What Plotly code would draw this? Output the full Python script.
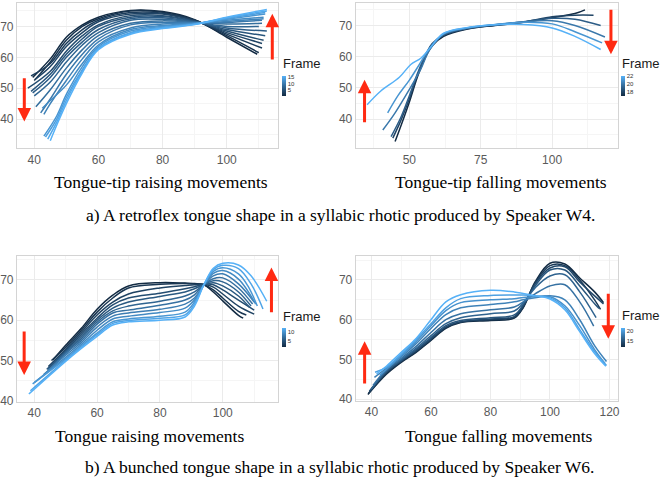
import plotly.graph_objects as go
from plotly.colors import sample_colorscale

W, H = 664, 484

# ---------------- Panel 1: Tongue-tip raising (retroflex, W4) ----------------
P1_FRAMES = list(range(1, 17))
P1_X = [
    [39.5, 45, 50, 55, 60, 70, 80, 90, 100, 109.5],
    [40.0, 45, 50, 55, 60, 70, 80, 90, 100, 110.0],
    [39.0, 45, 50, 55, 60, 70, 80, 90, 100, 111.0],
    [40.5, 45, 50, 55, 60, 70, 80, 90, 100, 111.0],
    [38.0, 45, 50, 55, 60, 70, 80, 90, 100, 111.5],
    [39.0, 45, 50, 55, 60, 70, 80, 90, 100, 112.0],
    [39.5, 45, 50, 55, 60, 70, 80, 90, 100, 112.5],
    [40.0, 45, 50, 55, 60, 70, 80, 90, 100, 110.0],
    [40.5, 45, 50, 55, 60, 70, 80, 90, 100, 111.0],
    [42.0, 45, 50, 55, 60, 70, 80, 90, 100, 111.0],
    [43.0, 45, 50, 55, 60, 70, 80, 90, 100, 111.5],
    [42.5, 45, 50, 55, 60, 70, 80, 90, 100, 111.5],
    [43.0, 47, 50, 55, 60, 70, 80, 90, 100, 112.0],
    [43.5, 47, 50, 55, 60, 70, 80, 90, 100, 112.0],
    [44.2, 47, 50, 55, 60, 70, 80, 90, 100, 112.5],
    [45.0, 47, 50, 55, 60, 70, 80, 90, 100, 112.5],
]
P1_Y = [
    [53.5, 59.5, 66.5, 70.5, 73.0, 75.2, 74.8, 72.2, 66.5, 61.0],
    [52.5, 58.5, 65.5, 70.0, 72.5, 75.0, 74.6, 72.0, 67.0, 61.5],
    [54.0, 58.0, 64.5, 69.0, 72.0, 74.5, 74.3, 72.0, 67.5, 63.0],
    [53.0, 57.0, 63.5, 68.0, 71.5, 74.0, 74.0, 71.8, 68.0, 64.5],
    [50.0, 55.5, 62.0, 67.0, 70.5, 73.5, 73.5, 71.7, 68.5, 65.5],
    [49.0, 54.5, 61.0, 66.0, 70.0, 73.0, 73.2, 71.6, 69.0, 67.0],
    [48.5, 53.5, 60.0, 65.0, 69.0, 72.5, 72.8, 71.5, 69.5, 68.5],
    [47.5, 52.0, 58.5, 64.0, 68.0, 72.0, 72.3, 71.4, 70.0, 70.0],
    [44.0, 49.5, 56.5, 62.5, 67.0, 71.0, 71.8, 71.3, 70.8, 71.0],
    [42.0, 46.5, 54.5, 61.0, 66.0, 70.5, 71.3, 71.2, 71.3, 72.0],
    [41.5, 45.0, 52.5, 59.5, 65.0, 69.5, 70.8, 71.1, 71.6, 72.5],
    [43.5, 46.0, 51.0, 58.0, 64.0, 69.0, 70.3, 71.0, 72.0, 73.0],
    [34.5, 41.0, 48.0, 57.0, 63.5, 68.5, 70.0, 70.9, 72.3, 74.0],
    [34.2, 40.0, 47.0, 56.0, 63.0, 68.0, 69.7, 70.8, 72.6, 74.5],
    [33.5, 39.0, 46.0, 55.5, 62.8, 67.8, 69.5, 70.7, 72.8, 75.0],
    [33.0, 38.0, 45.0, 55.0, 62.5, 67.5, 69.3, 70.6, 73.0, 75.5],
]
P1_CB_TICKS = [5, 10, 15]

# ---------------- Panel 2: Tongue-tip falling (retroflex, W4) ----------------
P2_FRAMES = list(range(17, 23))
P2_X = [
    [45.0, 47.5, 50, 53, 56, 58, 62, 70, 80, 90, 100, 108, 111.5],
    [44.2, 47, 50, 53, 56, 58, 62, 70, 80, 90, 100, 108, 114.5],
    [43.6, 47, 50, 53, 56, 58, 62, 70, 80, 90, 100, 108, 117.0],
    [40.7, 45, 50, 54, 57, 62, 70, 80, 90, 100, 108, 118.5],
    [42.4, 46, 50, 53.5, 57, 62, 70, 80, 90, 100, 108, 117.5],
    [35.2, 40, 46.5, 50.5, 54, 57, 62, 70, 80, 90, 100, 108, 117.0],
]
P2_Y = [
    [32.8, 39.0, 45.5, 54.0, 60.5, 63.5, 66.5, 68.8, 70.0, 71.0, 72.5, 73.8, 75.0],
    [33.9, 39.5, 46.5, 54.5, 61.0, 64.0, 66.8, 68.9, 70.1, 71.1, 72.8, 73.3, 73.3],
    [34.4, 40.5, 47.5, 55.0, 61.2, 64.2, 67.0, 69.0, 70.2, 71.2, 72.3, 72.0, 70.0],
    [36.5, 42.0, 49.5, 56.0, 62.0, 67.2, 69.1, 70.2, 71.1, 71.5, 70.0, 66.3],
    [42.0, 47.5, 52.5, 57.5, 62.5, 67.3, 69.2, 70.3, 71.0, 70.5, 68.0, 64.4],
    [44.6, 49.0, 53.4, 57.5, 59.5, 62.5, 67.5, 69.3, 70.2, 70.3, 69.2, 66.5, 62.3],
]
P2_CB_TICKS = [18, 20, 22]

# ---------------- Panel 3: Tongue raising (bunched, W6) ----------------
P3_FRAMES = list(range(1, 13))
_P3_XB = [50, 55, 60, 65, 70, 80, 88, 91, 94, 97, 100, 105]
P3_X = [
    [46.0] + _P3_XB + [106.5],
    [45.5] + _P3_XB + [107.5],
    [44.5] + _P3_XB + [110.0],
    [44.5] + _P3_XB + [110.0],
    [44.0] + _P3_XB + [108.5],
    [44.5] + _P3_XB + [109.0],
    [44.0] + _P3_XB + [109.5],
    [43.0] + _P3_XB + [110.0],
    [40.0] + _P3_XB + [110.5],
    [39.5] + _P3_XB + [108.0, 111.0],
    [38.8] + _P3_XB + [109.0, 112.8],
    [38.3] + _P3_XB + [109.0, 114.0],
]
P3_Y = [
    [50.2, 53.8, 58.0, 62.7, 66.2, 68.5, 69.3, 69.2, 69.1, 68.8, 67.0, 64.8, 61.2, 60.5],
    [50.0, 53.3, 57.5, 62.0, 65.5, 68.0, 68.9, 69.1, 69.0, 68.8, 67.5, 65.5, 62.2, 61.3],
    [48.5, 52.8, 57.0, 61.3, 64.5, 66.5, 68.0, 68.6, 68.8, 68.9, 68.2, 66.5, 63.5, 61.5],
    [48.0, 52.5, 56.5, 60.5, 63.8, 65.5, 66.7, 67.8, 68.3, 68.9, 68.8, 67.5, 65.0, 62.5],
    [47.8, 52.2, 56.0, 60.0, 63.0, 64.5, 65.9, 67.0, 67.8, 68.8, 69.3, 68.5, 66.0, 63.2],
    [47.5, 52.0, 55.5, 59.5, 62.3, 63.5, 64.7, 66.0, 67.0, 68.8, 69.8, 69.5, 67.0, 63.5],
    [47.0, 51.7, 55.0, 59.0, 61.8, 62.5, 63.7, 65.0, 66.3, 68.8, 70.3, 70.5, 68.0, 64.0],
    [46.5, 51.3, 54.5, 58.3, 61.0, 61.8, 62.7, 64.0, 65.5, 68.7, 71.0, 71.5, 69.0, 64.5],
    [44.5, 50.8, 54.0, 57.5, 60.3, 61.0, 61.9, 63.0, 65.0, 68.7, 71.6, 72.3, 70.2, 64.0],
    [44.2, 50.4, 53.6, 56.8, 59.6, 60.3, 61.0, 62.0, 64.5, 68.8, 72.1, 73.0, 71.5, 68.5, 63.5],
    [42.5, 50.1, 53.3, 56.4, 59.2, 59.9, 60.5, 61.3, 64.0, 68.8, 72.5, 73.6, 72.8, 69.0, 62.8],
    [41.7, 49.8, 53.0, 56.0, 58.8, 59.6, 60.0, 60.8, 63.5, 68.8, 72.9, 74.1, 73.7, 71.0, 64.7],
]
P3_CB_TICKS = [5, 10]

# ---------------- Panel 4: Tongue falling (bunched, W6) ----------------
P4_FRAMES = list(range(12, 22))
_P4_XA = [45, 50, 55, 60, 65, 70, 80, 88, 91, 95, 100, 105, 110]
P4_X = [
    [38.8] + _P4_XA + [115, 118.0],
    [39.0] + _P4_XA + [115, 117.0],
    [39.3] + _P4_XA + [115, 118.0],
    [39.6] + _P4_XA + [115, 116.5],
    [40.0] + _P4_XA + [115.5],
    [40.5] + _P4_XA + [114.7],
    [41.0] + _P4_XA + [115, 119.0],
    [42.8] + _P4_XA + [115, 118.5],
    [41.2] + _P4_XA + [115, 119.0],
    [41.7] + _P4_XA + [115, 118.8],
]
P4_Y = [
    [41.2, 46.3, 49.3, 51.8, 54.8, 57.8, 59.3, 59.8, 60.4, 63.0, 69.5, 74.2, 74.0, 70.5, 67.0, 64.3],
    [41.5, 46.5, 49.5, 52.0, 55.0, 58.0, 59.4, 60.0, 60.6, 63.2, 69.2, 73.6, 73.6, 70.0, 65.0, 62.6],
    [42.0, 46.8, 49.6, 52.2, 55.2, 58.2, 59.5, 60.2, 60.8, 63.5, 69.0, 73.0, 73.3, 69.5, 66.0, 64.0],
    [42.3, 47.0, 49.8, 52.5, 55.5, 58.5, 59.8, 60.5, 61.2, 63.8, 68.5, 72.5, 72.5, 68.5, 64.0, 62.8],
    [42.6, 47.2, 50.0, 52.8, 56.0, 59.0, 60.5, 61.5, 62.2, 64.2, 68.0, 71.0, 71.3, 67.0, 60.5],
    [43.5, 47.5, 50.3, 53.3, 56.8, 60.0, 61.5, 62.5, 63.2, 64.5, 66.5, 68.5, 68.8, 64.5, 58.4],
    [45.5, 47.8, 50.7, 54.0, 57.8, 61.3, 63.0, 63.8, 64.5, 65.0, 65.5, 66.0, 65.0, 60.0, 53.5, 49.5],
    [46.0, 47.5, 51.0, 54.5, 58.5, 62.3, 64.3, 65.0, 65.3, 65.6, 65.8, 65.8, 63.5, 58.5, 52.5, 49.0],
    [46.8, 48.0, 51.3, 55.0, 59.0, 63.0, 65.3, 66.1, 66.2, 66.2, 66.0, 65.5, 63.0, 57.5, 52.0, 48.5],
    [46.4, 48.3, 51.8, 55.3, 60.0, 64.5, 66.3, 67.4, 67.0, 66.6, 66.0, 65.2, 62.5, 57.0, 51.5, 48.3],
]
P4_CB_TICKS = [15, 20]

SUBTITLES = ["Tongue-tip raising movements", "Tongue-tip falling movements",
             "Tongue raising movements", "Tongue falling movements"]
CAPTIONS = ["a) A retroflex tongue shape in a syllabic rhotic produced by Speaker W4.",
            "b) A bunched tongue shape in a syllabic rhotic produced by Speaker W6."]

# ---------------- styling / layout ----------------
CSCALE = [[0.0, "#132B43"], [0.5, "#336A98"], [1.0, "#56B1F7"]]
RED = "#FF2A12"
SERIF = "Liberation Serif, Times New Roman, serif"
SANS = "Liberation Sans, Arial, sans-serif"

def px_x(p):
    return p / W

def px_y(p):
    return 1 - p / H

panels = [
    dict(X=P1_X, Y=P1_Y, F=P1_FRAMES, cbt=P1_CB_TICKS,
         dom=(16, 278, 3, 150), xr=[34.6, 115.9], yr=[30.6, 77.6], xd=20, yd=10,
         cbx=282.7, cby=86.7, cblen=20, frame_y=63.8,
         arrows=[(36.9, 53.7, 39.2), (114.2, 58.85, 74.1)],
         sub=(51.7, 184.4)),
    dict(X=P2_X, Y=P2_Y, F=P2_FRAMES, cbt=P2_CB_TICKS,
         dom=(356.3, 619.3, 3, 150), xr=[31.2, 122.9], yr=[30.7, 77.2], xd=25, yd=10,
         cbx=623.0, cby=86.7, cblen=20, frame_y=63.8,
         arrows=[(34.3, 38.5, 52.6), (120.6, 75.5, 60.8)],
         sub=(393.7, 184.4)),
    dict(X=P3_X, Y=P3_Y, F=P3_FRAMES, cbt=P3_CB_TICKS,
         dom=(16, 278, 259.3, 406.7), xr=[34.5, 117.5], yr=[39.8, 75.9], xd=20, yd=10,
         cbx=282.7, cby=342.2, cblen=19, frame_y=320.5,
         arrows=[(36.8, 57.6, 46.4), (115.5, 61.6, 73.1)],
         sub=(52.7, 441.1)),
    dict(X=P4_X, Y=P4_Y, F=P4_FRAMES, cbt=P4_CB_TICKS,
         dom=(356.3, 619.3, 259.3, 405.7), xr=[34.7, 122.7], yr=[39.65, 76.0], xd=20, yd=10,
         cbx=623.0, cby=342.2, cblen=19, frame_y=319.5,
         arrows=[(37.7, 43.6, 54.6), (119.6, 66.9, 55.2)],
         sub=(403.7, 441.1)),
]

fig = go.Figure()
layout = dict(width=W, height=H, margin=dict(l=0, r=0, t=0, b=0, pad=0),
              paper_bgcolor="white", plot_bgcolor="white", showlegend=False,
              font=dict(family=SANS))
annotations = []

for i, p in enumerate(panels):
    n = "" if i == 0 else str(i + 1)
    xa, ya = "x" + n, "y" + n
    ca = "coloraxis" + n
    fmin, fmax = min(p["F"]), max(p["F"])
    for xs, ys, f in zip(p["X"], p["Y"], p["F"]):
        col = sample_colorscale(CSCALE, [(f - fmin) / (fmax - fmin)])[0]
        fig.add_trace(go.Scatter(x=xs, y=ys, mode="lines", xaxis=xa, yaxis=ya,
                                 line=dict(color=col, width=1.5, shape="spline", smoothing=1.0),
                                 hoverinfo="skip"))
    # colorbar carrier
    fig.add_trace(go.Scatter(x=[p["X"][0][0]], y=[p["Y"][0][0]], mode="markers",
                             xaxis=xa, yaxis=ya,
                             marker=dict(size=0.1, opacity=0, color=[fmin], coloraxis=ca),
                             hoverinfo="skip"))
    l, r, t, b = p["dom"]
    grid = dict(showgrid=True, gridcolor="#EBEBEB", gridwidth=1, zeroline=False,
                showline=True, linecolor="#D4D4D4", linewidth=1, mirror=True,
                ticks="", tickfont=dict(size=12, color="#5A5A5A", family=SANS))
    layout["xaxis" + n] = dict(grid, domain=[px_x(l), px_x(r)], anchor=ya, range=p["xr"],
                               tick0=0, dtick=p["xd"],
                               minor=dict(showgrid=True, gridcolor="#F5F5F5", dtick=p["xd"] / 2, tick0=0))
    layout["yaxis" + n] = dict(grid, domain=[px_y(b), px_y(t)], anchor=xa, range=p["yr"],
                               tick0=0, dtick=p["yd"],
                               minor=dict(showgrid=True, gridcolor="#F5F5F5", dtick=p["yd"] / 2, tick0=0))
    layout[ca] = dict(colorscale=CSCALE, cmin=fmin, cmax=fmax,
                      colorbar=dict(x=px_x(p["cbx"]), xanchor="left", y=px_y(p["cby"]), yanchor="middle",
                                    len=p["cblen"], lenmode="pixels", thickness=4, thicknessmode="pixels",
                                    outlinewidth=0, xpad=0, ypad=0, tickvals=p["cbt"], ticks="",
                                    tickfont=dict(size=6, color="#333333")))
    annotations.append(dict(text="Frame", xref="paper", yref="paper", x=px_x(p["cbx"]) - 0.002,
                            y=px_y(p["frame_y"]), xanchor="left", yanchor="middle", showarrow=False,
                            font=dict(size=13, color="#1A1A1A", family=SANS)))
    for (ax_, y0, y1) in p["arrows"]:
        annotations.append(dict(x=ax_, y=y1, ax=ax_, ay=y0, xref=xa, yref=ya, axref=xa, ayref=ya,
                                text="", showarrow=True, arrowhead=2, arrowsize=0.9,
                                arrowwidth=3, arrowcolor=RED, standoff=0))
    annotations.append(dict(text=SUBTITLES[i], xref="paper", yref="paper",
                            x=px_x(p["sub"][0]), y=px_y(p["sub"][1]), xanchor="left", yanchor="middle",
                            showarrow=False, font=dict(size=17.5, color="black", family=SERIF)))

for txt, (cx, cy) in zip(CAPTIONS, [(83.7, 217.7), (82.7, 472.7)]):
    annotations.append(dict(text=txt, xref="paper", yref="paper", x=px_x(cx), y=px_y(cy),
                            xanchor="left", yanchor="middle", showarrow=False,
                            font=dict(size=17.5, color="black", family=SERIF)))

layout["annotations"] = annotations
fig.update_layout(**layout)
fig.write_html("out.html", config={"displayModeBar": False},
               post_script="document.body.style.margin='0';document.body.style.overflow='hidden';")
